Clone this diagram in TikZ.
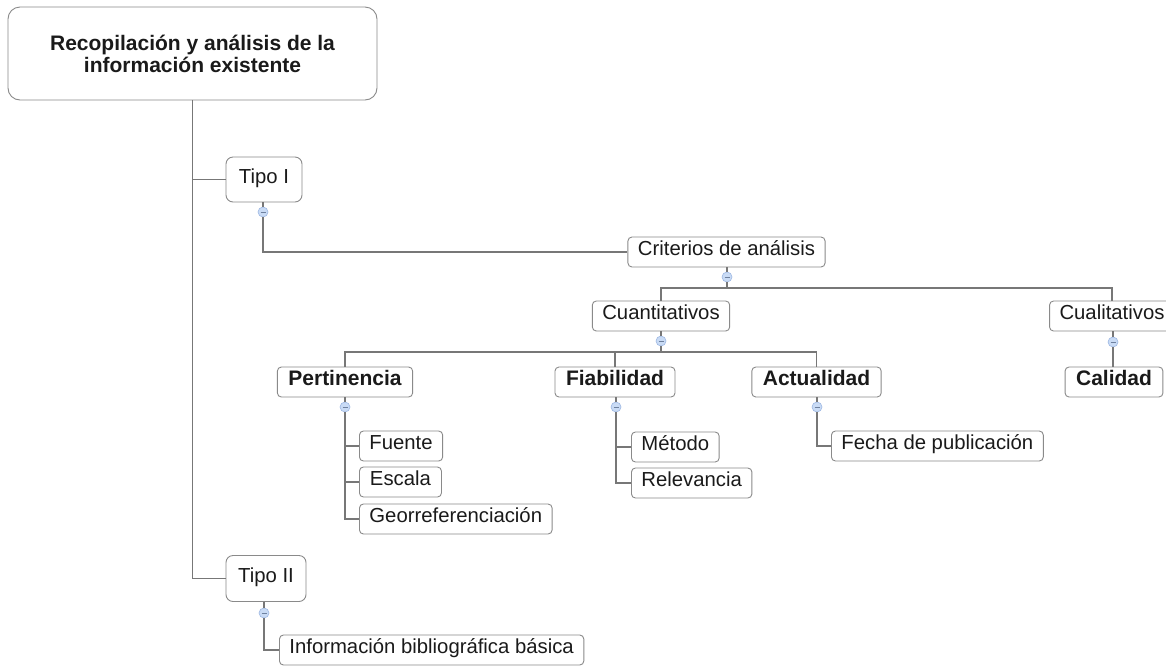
\documentclass[tikz,border=0pt]{standalone}
\usepackage{fontspec}
\setmainfont{Liberation Sans}
\usepackage{tikz}
\usetikzlibrary{positioning}
\definecolor{wirecol}{HTML}{777777}
\definecolor{edgecol}{HTML}{8A8A8A}
\definecolor{inkcol}{HTML}{1A1A1A}
\definecolor{foldcol}{HTML}{C9DBF5}
\definecolor{foldedge}{HTML}{9DB8E3}
\newcommand{\mapbox}[4]{\node[box,#4] at (#1) (#2) {#3};}
\newcommand{\foldmark}[2]{\node[fold] at (#1) (#2) {};}
\tikzset{
  box/.style={draw=edgecol,line width=0.9pt,fill=white,rounded corners=4pt,text=inkcol,
    font=\fontsize{20.3}{23}\selectfont,inner xsep=10pt,inner ysep=0pt,minimum height=30pt,text depth=0pt,text height=0.72em},
  strong/.style={font=\fontsize{21}{23}\selectfont\bfseries,inner xsep=11pt},
  fold/.style={circle,draw=foldedge,fill=foldcol,line width=0.6pt,minimum size=10pt,inner sep=0pt,
    path picture={\draw[foldedge!70!black,line width=0.6pt] ([xshift=-2.5pt]path picture bounding box.center) -- ([xshift=2.5pt]path picture bounding box.center);}},
  wire/.style={draw=wirecol,line width=1.2pt}
}
\begin{document}
\begin{tikzpicture}[x=1pt,y=-1pt]
\clip (0,0) rectangle (1166,665);
\fill[white] (0,0) rectangle (1166,665);

\mapbox{192.5,53.5}{root}{Recopilación y análisis de la\\información existente}{strong,align=center,minimum width=369pt,minimum height=93pt,rounded corners=12pt,text height=,text depth=,font=\fontsize{21}{22}\selectfont\bfseries}
\mapbox{264,179.5}{tipo1}{Tipo I}{minimum width=76pt,minimum height=45pt,rounded corners=7pt}
\foldmark{263,212}{c1}
\mapbox{726.5,252}{crit}{Criterios de análisis}{}
\foldmark{727,277}{c2}
\coordinate (j2) at (727,288);
\mapbox{661,316}{cuant}{Cuantitativos}{}
\mapbox{1112,316}{cual}{Cualitativos}{minimum width=121pt}
\foldmark{661,341}{c3}
\coordinate (j3) at (661,352);
\foldmark{1113,342}{c4}
\mapbox{1114,382}{cal}{Calidad}{strong,minimum width=96pt}

\mapbox{345,382}{pert}{Pertinencia}{strong}
\mapbox{615,382}{fiab}{Fiabilidad}{strong}
\mapbox{816.5,382}{actu}{Actualidad}{strong}
\foldmark{345,407}{c5}
\foldmark{616,407}{c6}
\foldmark{817,407}{c7}

\mapbox{359,446}{fuente}{Fuente}{anchor=west}
\mapbox{359,482}{escala}{Escala}{anchor=west,minimum width=82pt}
\mapbox{359,519}{geo}{Georreferenciación}{anchor=west}
\mapbox{631,447}{metodo}{Método}{anchor=west}
\mapbox{631,483}{relev}{Relevancia}{anchor=west}
\mapbox{831,446}{fecha}{Fecha de publicación}{anchor=west}

\mapbox{266,578.5}{tipo2}{Tipo II}{minimum width=80pt,minimum height=46pt,rounded corners=7pt}
\foldmark{264,613}{c8}
\mapbox{279,650}{info}{Información bibliográfica básica}{anchor=west}

\draw[wire] (root.south) |- (tipo1.west);
\draw[wire] (root.south) |- (tipo2.west);
\draw[wire] (tipo1.south -| c1) -- (c1.north);
\draw[wire] (c1.south) |- (crit.west);
\draw[wire] (crit.south -| c2) -- (c2.north);
\draw[wire] (c2.south) -- (j2);
\draw[wire] (cuant.north) |- (j2) -| (cual.north);
\draw[wire] (cuant.south) -- (c3.north);
\draw[wire] (c3.south) -- (j3);
\draw[wire] (pert.north) |- (j3) -| (actu.north);
\draw[wire] (fiab.north) |- (j3);
\draw[wire] (cual.south -| c4) -- (c4.north);
\draw[wire] (c4.south) -- (c4 |- cal.north);
\draw[wire] (pert.south) -- (c5.north);
\draw[wire] (c5.south) |- (fuente.west);
\draw[wire] (c5.south) |- (escala.west);
\draw[wire] (c5.south) |- (geo.west);
\draw[wire] (fiab.south -| c6) -- (c6.north);
\draw[wire] (c6.south) |- (metodo.west);
\draw[wire] (c6.south) |- (relev.west);
\draw[wire] (actu.south -| c7) -- (c7.north);
\draw[wire] (c7.south) |- (fecha.west);
\draw[wire] (tipo2.south -| c8) -- (c8.north);
\draw[wire] (c8.south) |- (info.west);
\end{tikzpicture}
\end{document}
